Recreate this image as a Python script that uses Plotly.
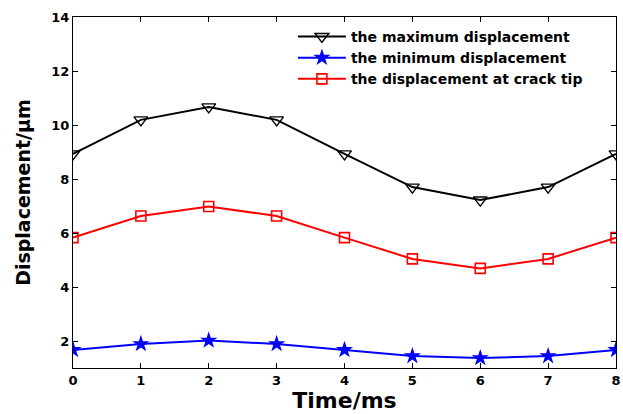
import plotly.graph_objects as go

time_ms = [0, 1, 2, 3, 4, 5, 6, 7, 8]
max_disp = [8.93, 10.19, 10.67, 10.19, 8.93, 7.70, 7.22, 7.70, 8.93]
min_disp = [1.67, 1.89, 2.02, 1.89, 1.67, 1.44, 1.37, 1.44, 1.67]
tip_disp = [5.83, 6.63, 6.98, 6.63, 5.83, 5.04, 4.69, 5.04, 5.83]
names = ["the maximum displacement", "the minimum displacement", "the displacement at crack tip"]
y_ticks = [2, 4, 6, 8, 10, 12, 14]

FONT = "DejaVu Sans"

fig = go.Figure()
fig.add_trace(go.Scatter(x=time_ms, y=max_disp, name=names[0], mode="lines+markers",
                         line=dict(color="black", width=2),
                         marker=dict(symbol="triangle-down-open", size=12, color="black", line=dict(width=1.4))))
fig.add_trace(go.Scatter(x=time_ms, y=min_disp, name=names[1], mode="lines+markers",
                         line=dict(color="blue", width=2),
                         marker=dict(symbol="star", size=13, color="blue")))
fig.add_trace(go.Scatter(x=time_ms, y=tip_disp, name=names[2], mode="lines+markers",
                         line=dict(color="red", width=2),
                         marker=dict(symbol="square-open", size=10, color="red", line=dict(width=1.6))))

axis_common = dict(showline=True, linecolor="black", linewidth=1.3, mirror="ticks",
                   ticks="inside", ticklen=5, tickcolor="black", showgrid=False, zeroline=False,
                   ticklabeloverflow="allow",
                   tickfont=dict(family=FONT, size=13, color="black", weight="bold"))
fig.update_xaxes(range=[0, 8], tickvals=time_ms, title=dict(text="<b>Time/ms</b>", standoff=3,
                 font=dict(family=FONT, size=22, color="black")), **axis_common)
fig.update_yaxes(range=[1, 14], tickvals=y_ticks, title=dict(text="<b>Displacement/μm</b>", standoff=15,
                 font=dict(family=FONT, size=19, color="black")), **axis_common)

fig.update_layout(
    width=623, height=414,
    margin=dict(l=73, r=2, t=17, b=46),
    plot_bgcolor="white", paper_bgcolor="white",
    legend=dict(x=0.405, y=0.989, xanchor="left", yanchor="top", bgcolor="rgba(0,0,0,0)",
                font=dict(family=FONT, size=14, color="black", weight="bold"),
                itemwidth=48, tracegroupgap=2),
    showlegend=True,
)
fig.write_html("out.html")
